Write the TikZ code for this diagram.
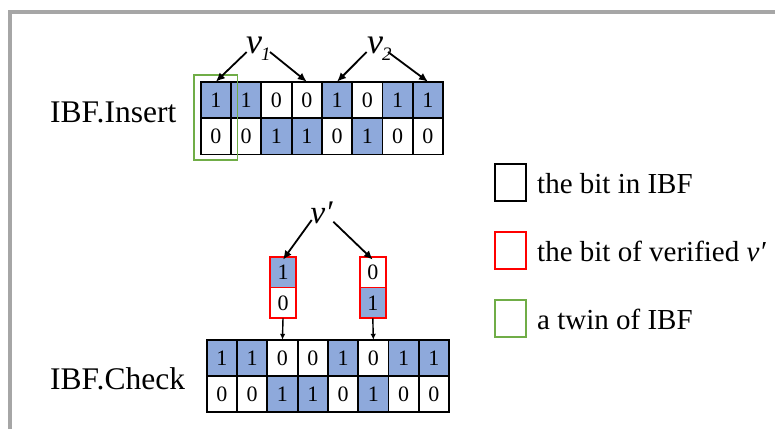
\documentclass[tikz,border=0pt]{standalone}
\usepackage{fontspec}
\setmainfont{Liberation Serif}
\usetikzlibrary{arrows.meta}
\definecolor{cellblue}{HTML}{8EA9DB}
\definecolor{twingreen}{HTML}{70AD47}
\definecolor{framegray}{HTML}{A6A6A6}
\definecolor{vred}{HTML}{FF0000}
\begin{document}
\begin{tikzpicture}[x=1pt,y=-1pt,
  b0/.style={draw=black, line width=1.8pt, minimum width=30.3pt, minimum height=36.4pt,
     inner sep=0pt, outer sep=0pt, font=\fontsize{22}{22}\selectfont},
  b1/.style={b0, fill=cellblue},
  r0/.style={draw=vred, line width=1.8pt, minimum width=26pt, minimum height=30.8pt,
     inner sep=0pt, outer sep=0pt, font=\fontsize{22}{22}\selectfont},
  r1/.style={r0, fill=cellblue},
  bigarrow/.style={line width=1.8pt, -{Latex[length=9pt,width=8pt]}},
  smallarrow/.style={line width=1.4pt, -{Latex[length=6pt,width=5.5pt]}},
  lab/.style={anchor=base west, inner sep=0pt, font=\fontsize{31.5}{31.5}\selectfont},
  legtext/.style={anchor=base west, inner sep=0pt, font=\fontsize{29}{29}\selectfont},
  legbox/.style={line width=1.8pt, minimum width=31pt, minimum height=36.7pt, inner sep=0pt},
  vlab/.style={anchor=base west, inner sep=0pt, font=\fontsize{36}{36}\selectfont\itshape}
]
\useasboundingbox (0,0) rectangle (775,429);
% frame
\draw[framegray, line width=4pt] (10.3,429) -- (10.3,12) -- (775,12);

% labels
\node[lab] (insl) at (50,122.7) {IBF.Insert};
\node[lab] (chkl) at (50,389.3) {IBF.Check};

% insert grid
\foreach \b [count=\i from 0] in {1,1,0,0,1,0,1,1}
  \node[b\b] (ia-\i) at (215.85+30.3*\i, 99.9) {\b};
\foreach \b [count=\i from 0] in {0,0,1,1,0,1,0,0}
  \node[b\b] (ib-\i) at (215.85+30.3*\i, 136.3) {\b};

% twin box
\node[draw=twingreen, line width=1.5pt, minimum width=43.7pt, minimum height=85pt,
      inner sep=0pt] (twin) at (215.85,117.5) {};

% v1, v2
\node[vlab] (v1) at (246,53.3) {v\kern-1pt\raisebox{-7.5pt}{\fontsize{19}{19}\selectfont 1}};
\node[vlab] (v2) at (367,53.3) {v\kern-1pt\raisebox{-7.5pt}{\fontsize{19}{19}\selectfont 2}};
\coordinate (v1a) at (246.7,52);
\coordinate (v1b) at (270,52);
\coordinate (v2a) at (366.7,52);
\coordinate (v2b) at (388,52);
\draw[bigarrow] (v1a) -- (ia-0.north);
\draw[bigarrow] (v1b) -- (ia-3.north);
\draw[bigarrow] (v2a) -- (ia-4.north);
\draw[bigarrow] (v2b) -- (ia-7.north);

% check grid
\foreach \b [count=\i from 0] in {1,1,0,0,1,0,1,1}
  \node[b\b] (ca-\i) at (221.85+30.3*\i, 358) {\b};
\foreach \b [count=\i from 0] in {0,0,1,1,0,1,0,0}
  \node[b\b] (cb-\i) at (221.85+30.3*\i, 394) {\b};

% verified bits
\node[r1] (la) at (283,272.1) {1};
\node[r0] (lb) at (283,302.9) {0};
\node[r0] (ra) at (372.8,272.1) {0};
\node[r1] (rb) at (372.8,302.9) {1};

% v'
\node[anchor=base west, inner sep=0pt, font=\fontsize{33}{33}\selectfont\itshape] (vp) at (310.5,223.3) {v′};
\coordinate (vpa) at (311.7,220);
\coordinate (vpb) at (333.3,221.7);
\draw[bigarrow] (vpa) -- ([yshift=-3pt]la.north);
\draw[bigarrow] (vpb) -- ([yshift=-3pt]ra.north);

\draw[smallarrow] (lb.south) -- (ca-2.north);
\draw[smallarrow] (rb.south) -- (ca-5.north);

% legend
\node[legbox, draw=black] (lg1) at (510.5,182.35) {};
\node[legtext] (lt1) at (537,193.3) {the bit in IBF};
\node[legbox, draw=vred] (lg2) at (510.5,250.5) {};
\node[legtext] (lt2) at (537,261.6) {the bit of verified \textit{v′}};
\node[legbox, draw=twingreen] (lg3) at (510.5,318.35) {};
\node[legtext] (lt3) at (537,329.5) {a twin of IBF};
\end{tikzpicture}
\end{document}
